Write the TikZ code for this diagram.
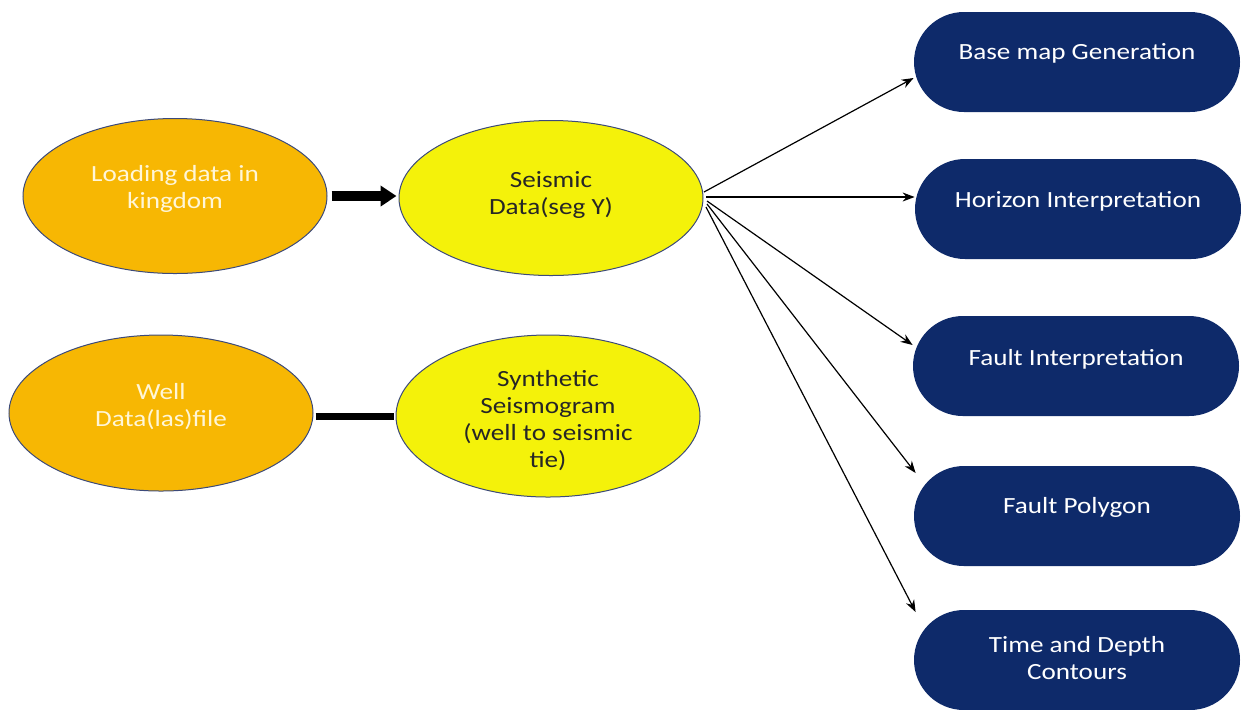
\documentclass[tikz,border=0pt]{standalone}
\usepackage{fontspec}
\setmainfont[FakeStretch=1.17]{Carlito}
\usetikzlibrary{shapes.geometric,shapes.misc,arrows.meta}
\definecolor{gold}{HTML}{F7B703}
\definecolor{lemon}{HTML}{F4F20A}
\definecolor{navy}{HTML}{0E2A6A}
\definecolor{rim}{HTML}{3C4A7A}
\definecolor{paletext}{HTML}{FFF6D8}
\begin{document}
\begin{tikzpicture}[x=0.5pt,y=-0.5pt,
  blob/.style={ellipse,draw=rim,line width=0.5pt,inner sep=0pt,
    minimum width=152pt,minimum height=77.5pt},
  inputblob/.style={blob,fill=gold},
  procblob/.style={blob,fill=lemon},
  taskbox/.style={rounded rectangle,fill=navy,draw=none,inner sep=0pt,
    minimum width=163pt,minimum height=50pt},
  caption/.style={inner sep=0pt,align=center,
    font=\fontsize{11.6pt}{13.5pt}\selectfont},
  inputtext/.style={caption,text=paletext},
  proctext/.style={caption,text=black!85},
  tasktext/.style={caption,text=white},
  fanout/.style={line width=0.6pt,-{Stealth[length=6pt,width=4.5pt]}},
]
\useasboundingbox (0,0) rectangle (1241,709);

% input data
\node[inputblob] (load) at (175,196) {};
\node[inputtext,yshift=3.5pt] (load-t) at (load.center) {Loading data in\\kingdom};
\node[inputblob,minimum height=78pt] (well) at (161,413) {};
\node[inputtext,yshift=3pt] (well-t) at (well.center) {Well\\Data(las)file};

% processing steps
\node[procblob] (seis) at (551,198) {};
\node[proctext,yshift=1.5pt] (seis-t) at (seis.center) {Seismic\\Data(seg Y)};
\node[procblob,minimum height=81pt] (synth) at (548,416) {};
\node[proctext,yshift=-2.5pt] (synth-t) at (synth.center) {Synthetic\\Seismogram\\(well to seismic\\tie)};

% interpretation tasks
\node[taskbox] (base)  at (1077,62)  {};
\node[taskbox] (hor)   at (1078,209) {};
\node[taskbox] (fault) at (1076,366) {};
\node[taskbox] (poly)  at (1077,516) {};
\node[taskbox] (tdc)   at (1077,660) {};
\node[tasktext,yshift=4.5pt] (base-t)  at (base.center)  {Base map Generation};
\node[tasktext,yshift=4pt]   (hor-t)   at (hor.center)   {Horizon Interpretation};
\node[tasktext,yshift=3.5pt] (fault-t) at (fault.center) {Fault Interpretation};
\node[tasktext,yshift=4.5pt] (poly-t)  at (poly.center)  {Fault Polygon};
\node[tasktext,yshift=1pt]   (tdc-t)   at (tdc.center)   {Time and Depth\\Contours};

% thick connectors between the left columns
\draw[line width=5pt,-{Triangle[length=8pt,width=10pt]}]
  ([xshift=2pt]load.east) -- ([xshift=-1pt]load.east -| seis.west);
\draw[line width=3.5pt] ([xshift=1pt]well.east |- 0,416) -- ([xshift=-1pt]synth.west);

% fan of arrows out of the seismic data
\coordinate (f1) at (704,192);
\coordinate (f2) at (706,197);
\coordinate (f3) at (707,201);
\coordinate (f4) at (707,204);
\coordinate (f5) at (706,207);
\draw[fanout] (f1) -- (base.west |- 0,78);
\draw[fanout] (f2) -- (hor.west |- 0,197);
\draw[fanout] (f3) -- (fault.west |- 0,345);
\draw[fanout] (f4) -- ([xshift=1pt]poly.west |- 0,473);
\draw[fanout] (f5) -- ([xshift=1pt]tdc.west |- 0,612);
\end{tikzpicture}
\end{document}
